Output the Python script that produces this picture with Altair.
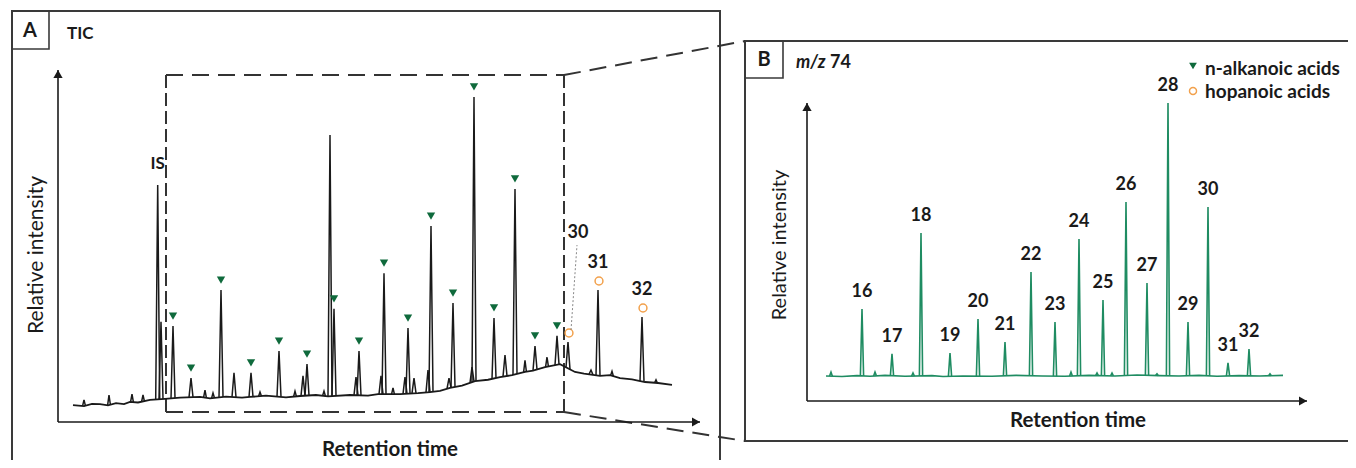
import altair as alt
import numpy as np
import pandas as pd

# ---------------- Panel A: TIC chromatogram ----------------
# retention time (min) / relative intensity (%), tallest peak = 100
a_base_rt = [1.5, 2.6, 3.4, 4.2, 5.0, 5.8, 6.6, 7.2, 8.0, 9.2, 10.7, 12.2, 14.2, 15.2, 16.8, 18.4,
             19.2, 20.8, 22.8, 24.2, 25.8, 27.0, 29.2, 31.0, 32.0, 34.2, 36.0, 37.2, 38.2, 39.2,
             40.4, 41.7, 43.0, 44.2, 45.4, 46.7, 47.5, 48.7, 50.2, 51.7, 52.6, 54.2, 55.2, 56.2,
             57.4, 58.7, 60.0, 61.4]
a_base_int = [5.2, 4.9, 5.6, 5.5, 5.1, 5.8, 5.5, 6.2, 6.0, 6.8, 7.1, 7.5, 7.7, 7.3, 7.8, 7.5,
              7.7, 8.1, 7.6, 8.0, 8.3, 7.9, 8.3, 8.1, 8.6, 8.6, 8.9, 9.2, 9.6, 10.5,
              11.2, 12.6, 13.0, 13.8, 14.4, 15.4, 15.8, 16.9, 17.8, 15.4, 14.9, 14.2, 14.4, 13.5,
              13.1, 12.3, 12.0, 11.4]

a_peak_rt = [9.97, 10.3, 11.5, 13.3, 16.3, 17.6, 19.3, 22.1, 24.5, 24.9, 27.2, 27.6, 29.8, 30.1,
             32.3, 32.6, 34.7, 35.0, 35.6, 37.0, 37.3, 39.1, 39.5, 41.4, 41.6, 43.6, 44.7, 45.7,
             47.7, 49.9, 51.0, 53.3, 54.0, 58.4]
a_peak_int = [72.9, 30.8, 29.5, 13.5, 40.6, 15.1, 15.1, 21.8, 14.2, 17.8, 88.3, 34.8, 13.8, 21.8,
              14.2, 45.8, 13.8, 28.9, 13.5, 16.0, 60.3, 13.5, 36.6, 16.9, 100.0, 32.0, 20.6, 71.7,
              23.4, 26.5, 24.6, 16.0, 40.6, 32.3]
a_peak_type = ["IS", "", "alk", "alk", "alk", "", "alk", "alk", "", "alk", "", "alk", "", "alk",
               "", "alk", "", "alk", "", "", "alk", "", "alk", "", "alk", "alk", "", "alk",
               "alk", "alk", "hop", "", "hop", "hop"]
a_peak_label = ["IS", "", "", "", "", "", "", "", "", "", "", "", "", "",
                "", "", "", "", "", "", "", "", "", "", "", "", "", "",
                "", "", "30", "", "31", "32"]

a_minor_rt = [2.6, 5.1, 7.4, 8.5, 14.7, 15.5, 20.2, 23.7, 26.6, 33.5, 46.7, 48.9, 55.4, 59.8]
a_minor_int = [6.8, 8.3, 8.6, 8.3, 9.8, 8.9, 9.2, 9.5, 9.5, 10.5, 19.0, 20.0, 15.6, 13.0]

zoom_rt = [10.8, 50.6]      # window enlarged in panel B
zoom_int = [3.1, 106.8]
a_axis_max = [64.2, 108.3]

# ---------------- Panel B: m/z 74 ----------------
b_peak_label = ["16", "17", "18", "19", "20", "21", "22", "23", "24", "25", "26", "27", "28",
                "29", "30", "31", "32"]
b_peak_rt = [5.5, 8.5, 11.4, 14.3, 17.1, 19.8, 22.4, 24.8, 27.2, 29.6, 31.9, 34.0, 36.1, 38.1,
             40.1, 42.1, 44.2]
b_peak_int = [30.9, 15.8, 56.4, 16.1, 27.5, 19.8, 43.3, 26.5, 54.4, 33.9, 66.8, 39.6, 100.0,
              26.5, 65.1, 12.8, 17.4]
b_base_rt = [1.9, 3.5, 5.0, 6.3, 7.8, 9.8, 12.5, 13.6, 15.6, 18.5, 20.9, 23.5, 25.8, 28.2,
             30.8, 33.0, 35.2, 37.2, 39.2, 41.0, 43.2, 45.3, 47.6]
b_base_int = [8.4, 8.2, 8.5, 8.3, 8.6, 8.3, 8.5, 8.2, 8.4, 8.3, 8.6, 8.4, 8.3, 8.6, 8.4, 8.7,
              8.5, 8.4, 8.6, 8.3, 8.5, 8.4, 8.6]
b_minor_rt = [2.4, 6.8, 10.6, 26.4, 29.0, 30.5, 35.0, 46.3]
b_minor_int = [9.7, 9.7, 9.4, 9.7, 9.4, 9.4, 9.1, 9.1]
b_axis_max = [50.0, 100.0]

# ---------------- styles ----------------
FONT = "Lato"
INK = "#1a1a1a"
FRAME = "#3a3a3a"
GREEN_MARK = "#0f6a3c"
GREEN_LINE = "#1f8c62"
ORANGE = "#f2a14c"


def peak_frame(rts, ints, base_rt, base_int, hw, prefix):
    rows = []
    for i, (r, v) in enumerate(zip(rts, ints)):
        for dx in (-hw, 0.0, hw):
            x = r + dx
            y = v if dx == 0.0 else float(np.interp(x, base_rt, base_int))
            rows.append({"rt": x, "int": y, "pk": f"{prefix}{i}"})
    return pd.DataFrame(rows)


xa = alt.Scale(domain=[0, a_axis_max[0]], range=[50, 692], nice=False, zero=False)
ya = alt.Scale(domain=[0, a_axis_max[1]], range=[414, 62], nice=False, zero=False)
xb = alt.Scale(domain=[0, b_axis_max[0]], range=[799, 1299], nice=False, zero=False)
yb = alt.Scale(domain=[0, b_axis_max[1]], range=[393, 95], nice=False, zero=False)


def X(sc, f="rt"):
    return alt.X(f"{f}:Q", scale=sc, axis=None)


def Y(sc, f="int"):
    return alt.Y(f"{f}:Q", scale=sc, axis=None)


one = pd.DataFrame({"k": [0]})

# ---------- panel A layers ----------
a_peaks = pd.DataFrame({"rt": a_peak_rt, "int": a_peak_int, "type": a_peak_type, "label": a_peak_label})
a_base = pd.DataFrame({"rt": a_base_rt, "int": a_base_int})
a_spikes = pd.concat([
    peak_frame(a_peak_rt, a_peak_int, a_base_rt, a_base_int, 0.2, "p"),
    peak_frame(a_minor_rt, a_minor_int, a_base_rt, a_base_int, 0.14, "m"),
])
a_axes = pd.DataFrame({"rt": [0, 0], "int": [0, 0], "rt2": [a_axis_max[0], 0], "int2": [0, a_axis_max[1]]})
a_box = pd.DataFrame({
    "rt": [zoom_rt[0], zoom_rt[0], zoom_rt[0], zoom_rt[1]],
    "rt2": [zoom_rt[1], zoom_rt[1], zoom_rt[0], zoom_rt[1]],
    "int": [zoom_int[1], zoom_int[0], zoom_int[0], zoom_int[0]],
    "int2": [zoom_int[1], zoom_int[0], zoom_int[1], zoom_int[1]],
    "dir": ["h", "h", "v", "v"],
})

A_axes = alt.Chart(a_axes).mark_rule(color=INK, strokeWidth=1.6).encode(
    x=X(xa), x2="rt2:Q", y=Y(ya), y2="int2:Q")
A_arrow_up = alt.Chart(pd.DataFrame({"rt": [0], "int": [a_axis_max[1]]})).mark_point(
    shape="triangle-up", filled=True, size=85, color=INK, opacity=1, yOffset=4).encode(x=X(xa), y=Y(ya))
A_arrow_right = alt.Chart(pd.DataFrame({"rt": [a_axis_max[0]], "int": [0]})).mark_point(
    shape="triangle-right", filled=True, size=85, color=INK, opacity=1, xOffset=-4).encode(x=X(xa), y=Y(ya))
A_box_h = alt.Chart(a_box[a_box["dir"] == "h"]).mark_rule(
    color="#333333", strokeWidth=2, strokeDash=[17, 9]).encode(x=X(xa), x2="rt2:Q", y=Y(ya), y2="int2:Q")
A_box_v = alt.Chart(a_box[a_box["dir"] == "v"]).mark_rule(
    color="#333333", strokeWidth=2, strokeDash=[13, 5]).encode(x=X(xa), x2="rt2:Q", y=Y(ya), y2="int2:Q")
A_base = alt.Chart(a_base).mark_line(color=INK, strokeWidth=1.8).encode(x=X(xa), y=Y(ya))
A_spikes = alt.Chart(a_spikes).mark_line(color=INK, strokeWidth=1.5).encode(
    x=X(xa), y=Y(ya), detail="pk:N")
A_tri = alt.Chart(a_peaks[a_peaks["type"] == "alk"]).mark_point(
    shape="triangle-down", filled=True, size=70, color=GREEN_MARK, opacity=1, yOffset=-10).encode(
    x=X(xa), y=Y(ya))
A_circ = alt.Chart(a_peaks[a_peaks["type"] == "hop"]).mark_point(
    shape="circle", filled=False, size=62, color=ORANGE, strokeWidth=1.5, opacity=1, yOffset=-9,
    xOffset=1).encode(x=X(xa), y=Y(ya))
A_IS = alt.Chart(a_peaks[a_peaks["label"] == "IS"]).mark_text(
    font=FONT, fontSize=17, fontWeight="bold", color=INK, yOffset=-21, baseline="middle").encode(
    x=X(xa), y=Y(ya), text="label:N")
A_lab = alt.Chart(a_peaks[a_peaks["label"].isin(["31", "32"])]).mark_text(
    font=FONT, fontSize=18, fontWeight="bold", color=INK, yOffset=-27, baseline="middle").encode(
    x=X(xa), y=Y(ya), text="label:N")
A_lab30 = alt.Chart(a_peaks[a_peaks["label"] == "30"]).mark_text(
    font=FONT, fontSize=18, fontWeight="bold", color=INK, yOffset=-109, xOffset=10,
    baseline="middle").encode(x=X(xa), y=Y(ya), text="label:N")
A_leader = alt.Chart(a_peaks[a_peaks["label"] == "30"]).mark_rule(
    color="#888888", strokeWidth=1, strokeDash=[2, 2], xOffset=3, yOffset=-12, x2Offset=9,
    y2Offset=-97).encode(x=X(xa), x2="rt:Q", y=Y(ya), y2="int:Q")

panelA = alt.layer(A_box_h, A_box_v, A_axes, A_arrow_up, A_arrow_right, A_base, A_spikes,
                   A_tri, A_circ, A_IS, A_lab, A_lab30, A_leader)

# ---------- panel B layers ----------
b_peaks = pd.DataFrame({"rt": b_peak_rt, "int": b_peak_int, "label": b_peak_label})
b_base = pd.DataFrame({"rt": b_base_rt, "int": b_base_int})
b_spikes = pd.concat([
    peak_frame(b_peak_rt, b_peak_int, b_base_rt, b_base_int, 0.16, "p"),
    peak_frame(b_minor_rt, b_minor_int, b_base_rt, b_base_int, 0.14, "m"),
])
b_axes = pd.DataFrame({"rt": [0, 0], "int": [0, 0], "rt2": [b_axis_max[0], 0], "int2": [0, b_axis_max[1]]})

B_axes = alt.Chart(b_axes).mark_rule(color=INK, strokeWidth=1.6).encode(
    x=X(xb), x2="rt2:Q", y=Y(yb), y2="int2:Q")
B_arrow_up = alt.Chart(pd.DataFrame({"rt": [0], "int": [b_axis_max[1]]})).mark_point(
    shape="triangle-up", filled=True, size=85, color=INK, opacity=1, yOffset=4).encode(x=X(xb), y=Y(yb))
B_arrow_right = alt.Chart(pd.DataFrame({"rt": [b_axis_max[0]], "int": [0]})).mark_point(
    shape="triangle-right", filled=True, size=85, color=INK, opacity=1, xOffset=-4).encode(x=X(xb), y=Y(yb))
B_base = alt.Chart(b_base).mark_line(color=GREEN_LINE, strokeWidth=1.6).encode(x=X(xb), y=Y(yb))
B_spikes = alt.Chart(b_spikes).mark_line(color=GREEN_LINE, strokeWidth=1.6).encode(
    x=X(xb), y=Y(yb), detail="pk:N")
B_lab = alt.Chart(b_peaks).mark_text(
    font=FONT, fontSize=18, fontWeight="bold", color=INK, yOffset=-17, baseline="middle").encode(
    x=X(xb), y=Y(yb), text="label:N")

panelB = alt.layer(B_axes, B_arrow_up, B_arrow_right, B_base, B_spikes, B_lab)

# ---------- frames, connectors and free text ----------
def rect(x1, x2, y1, y2, w):
    return alt.Chart(one).mark_rect(fillOpacity=0, stroke=FRAME, strokeWidth=w).encode(
        x=alt.value(x1), x2=alt.value(x2), y=alt.value(y1), y2=alt.value(y2))


def text(t, x, y, size, weight="bold", align="center", angle=0, style="normal"):
    return alt.Chart(one).mark_text(text=t, font=FONT, fontSize=size, fontWeight=weight, align=align,
                                    baseline="middle", angle=angle, fontStyle=style, color=INK).encode(
        x=alt.value(x), y=alt.value(y))


def connector(x1, y1, x2, y2):
    return alt.Chart(one).mark_rule(color="#333333", strokeWidth=2, strokeDash=[17, 9]).encode(
        x=alt.value(x1), y=alt.value(y1), x2=alt.value(x2), y2=alt.value(y2))


deco = [
    rect(4, 712, 3, 480, 2), rect(4, 41, 3, 41, 1.6),
    rect(737, 1360, 33, 433, 2), rect(737, 775, 33, 70, 1.6),
    connector(556, 67, 737, 33), connector(556, 404, 737, 433),
    text("A", 22, 23, 20), text("TIC", 59, 26, 17, align="left"),
    text("B", 756, 52, 20), text("m/z", 788, 55, 18, align="left", style="italic"),
    text("74", 822, 55, 18, align="left"),
    text("Relative intensity", 29, 247, 21, weight="normal", angle=270),
    text("Retention time", 382, 442, 20.5),
    text("Relative intensity", 772, 237, 20, weight="normal", angle=270),
    text("Retention time", 1070, 413, 20.5),
    alt.Chart(one).mark_point(shape="triangle-down", filled=True, size=60, color=GREEN_MARK,
                              opacity=1).encode(x=alt.value(1185), y=alt.value(58)),
    alt.Chart(one).mark_point(shape="circle", filled=False, size=50, color=ORANGE, strokeWidth=1.4,
                              opacity=1).encode(x=alt.value(1185), y=alt.value(83)),
    text("n-alkanoic acids", 1197, 61, 19, align="left"),
    text("hopanoic acids", 1197, 84, 19, align="left"),
]

chart = alt.layer(*deco[:6], panelA, panelB, *deco[6:]).resolve_scale(
    x="independent", y="independent"
).properties(
    width=1340, height=452, padding=0, autosize="none", background="white"
).configure_view(strokeWidth=0)

chart.save("out.html", embed_options={"renderer": "svg", "actions": False})
